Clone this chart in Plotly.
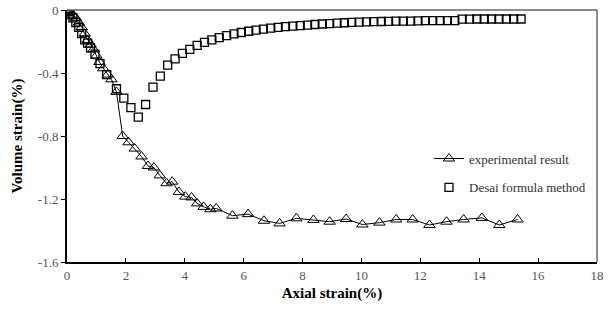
import plotly.graph_objects as go

# Experimental result (triangles with line)
exp_x = [0, 0.1, 0.2, 0.3, 0.4, 0.5, 0.6, 0.7, 0.8, 0.9, 1.0, 1.1, 1.23, 1.38, 1.51, 1.68,
         1.89, 2.09, 2.3, 2.53, 2.75, 2.95, 3.15, 3.38, 3.57, 3.8, 4.02, 4.23, 4.42, 4.64,
         4.87, 5.07, 5.62, 6.15, 6.69, 7.22, 7.79, 8.37, 8.92, 9.48, 10.03, 10.61, 11.18,
         11.74, 12.31, 12.89, 13.47, 14.09, 14.68, 15.3]
exp_y = [0, -0.01, -0.03, -0.05, -0.08, -0.11, -0.15, -0.19, -0.22, -0.25, -0.29, -0.33,
         -0.37, -0.41, -0.44, -0.52, -0.80, -0.84, -0.88, -0.93, -0.99, -1.0, -1.05, -1.1,
         -1.09, -1.155, -1.185, -1.19, -1.228, -1.25, -1.265, -1.26, -1.306, -1.296, -1.338,
         -1.355, -1.323, -1.333, -1.344, -1.327, -1.362, -1.35, -1.33, -1.33, -1.365, -1.344,
         -1.33, -1.32, -1.365, -1.33]

# Desai formula method (open squares)
desai_x = [0, 0.05, 0.1, 0.2, 0.3, 0.4, 0.5, 0.6, 0.7, 0.8, 0.95, 1.12, 1.35, 1.68, 1.93,
           2.17, 2.42, 2.67, 2.92, 3.17, 3.42, 3.67, 3.92, 4.17, 4.42, 4.67, 4.92, 5.17,
           5.42, 5.67, 5.92, 6.17, 6.42, 6.67, 6.92, 7.17, 7.42, 7.67, 7.92, 8.17, 8.42,
           8.67, 8.92, 9.17, 9.42, 9.67, 9.92, 10.17, 10.42, 10.67, 10.92, 11.17, 11.42,
           11.67, 11.92, 12.17, 12.42, 12.67, 12.92, 13.17, 13.42, 13.67, 13.92, 14.17,
           14.42, 14.67, 14.92, 15.17, 15.42]
desai_y = [0, -0.01, -0.03, -0.05, -0.08, -0.11, -0.15, -0.19, -0.21, -0.24, -0.28, -0.34,
           -0.41, -0.50, -0.56, -0.62, -0.68,
           -0.60, -0.49, -0.42, -0.35, -0.31, -0.275, -0.25, -0.225, -0.205, -0.19, -0.175,
           -0.163, -0.152,
           -0.143, -0.135, -0.128, -0.121, -0.115, -0.11, -0.106, -0.102, -0.099, -0.096,
           -0.092, -0.089, -0.086, -0.083, -0.081, -0.079, -0.077, -0.075, -0.074, -0.073,
           -0.072, -0.071, -0.07, -0.07, -0.069, -0.068, -0.068, -0.068, -0.067, -0.067,
           -0.058, -0.058, -0.057, -0.057, -0.057, -0.057, -0.057, -0.057, -0.057]

x_ticks = [0, 2, 4, 6, 8, 10, 12, 14, 16, 18]
y_ticks = [0, -0.4, -0.8, -1.2, -1.6]
y_tick_labels = ["0", "-0.4", "-0.8", "-1.2", "-1.6"]

serif = "Times New Roman, Liberation Serif, DejaVu Serif, serif"

fig = go.Figure()
fig.add_trace(go.Scatter(
    x=exp_x, y=exp_y, mode="lines+markers", name="experimental result",
    legendgroup="a",
    line=dict(color="black", width=1),
    marker=dict(symbol="triangle-up-open", size=10, color="black", line=dict(width=1)),
))
fig.add_trace(go.Scatter(
    x=desai_x, y=desai_y, mode="markers", name="Desai formula method",
    legendgroup="b",
    marker=dict(symbol="square-open", size=8, color="black", line=dict(width=1.3)),
))

fig.update_layout(
    width=614, height=320,
    margin=dict(l=67, r=17, t=10, b=58),
    paper_bgcolor="white", plot_bgcolor="white",
    font=dict(family=serif, color="black"),
    showlegend=True,
    legend=dict(x=0.683, y=0.47, xanchor="left", yanchor="top",
                bgcolor="rgba(0,0,0,0)", font=dict(size=13, family=serif, color="#333"),
                traceorder="grouped", tracegroupgap=9, itemwidth=30),
    xaxis=dict(range=[0, 18], tickvals=x_ticks, ticks="inside", ticklen=4,
               tickcolor="black", showgrid=False, zeroline=False, automargin=False,
               showline=True, linecolor="black", linewidth=2, ticklabeloverflow="allow",
               tickfont=dict(size=13, family=serif, color="#555"),
               title=dict(text="<b>Axial strain(%)</b>", font=dict(size=15, family=serif),
                          standoff=6)),
    yaxis=dict(range=[-1.6, 0], tickvals=y_ticks, ticktext=y_tick_labels, ticks="outside",
               ticklen=4, tickcolor="black", showgrid=False, zeroline=False, automargin=False,
               showline=True, linecolor="black", linewidth=2, ticklabeloverflow="allow",
               tickfont=dict(size=13, family=serif, color="#555"),
               title=dict(text="<b>Volume strain(%)</b>", font=dict(size=15, family=serif),
                          standoff=12)),
    shapes=[
        dict(type="line", xref="paper", yref="paper", x0=0, x1=1, y0=1, y1=1,
             line=dict(color="#666", width=1.5)),
        dict(type="line", xref="paper", yref="paper", x0=1, x1=1, y0=0, y1=1,
             line=dict(color="#666", width=1.5)),
    ],
)

fig.write_html("out.html",
               config={"displayModeBar": False},
               post_script="document.body.style.margin='0';document.body.style.padding='0';")
